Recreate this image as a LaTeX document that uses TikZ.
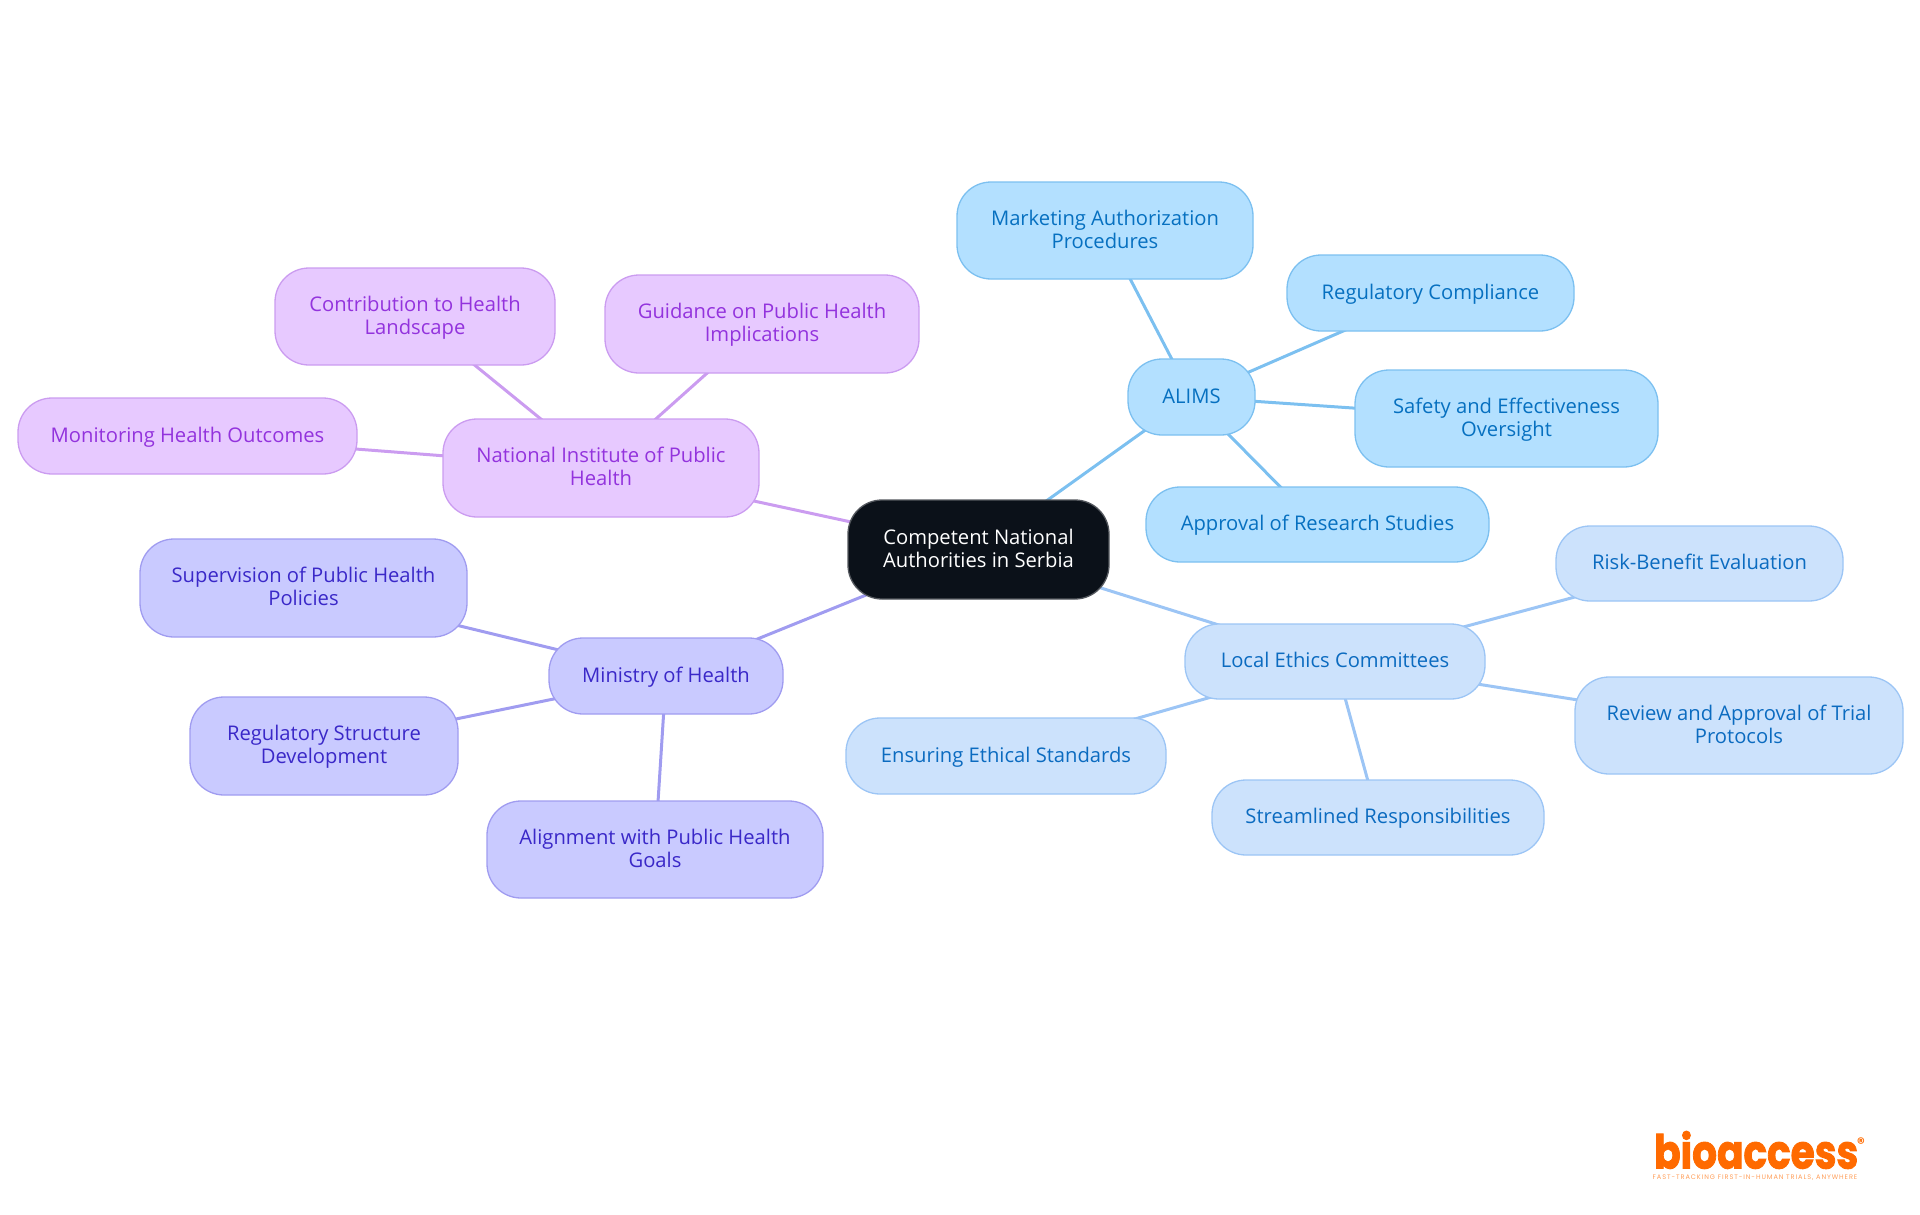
\documentclass[tikz,border=0pt]{standalone}
\usepackage{fontspec}
\setmainfont{Open Sans}
\newfontfamily\logofont{Poppins}
\usetikzlibrary{backgrounds}
\definecolor{rootfill}{HTML}{0B1119}
\definecolor{afill}{HTML}{B3E0FF}\definecolor{aline}{HTML}{7CC0F0}\definecolor{atext}{HTML}{0670C0}
\definecolor{lfill}{HTML}{CCE2FC}\definecolor{lline}{HTML}{9CC5F5}\definecolor{ltext}{HTML}{0B6BC0}
\definecolor{mfill}{HTML}{C9CAFF}\definecolor{mline}{HTML}{A09CF0}\definecolor{mtext}{HTML}{3A28C8}
\definecolor{nfill}{HTML}{E7C9FF}\definecolor{nline}{HTML}{CB9CF0}\definecolor{ntext}{HTML}{9333DD}
\definecolor{logoorange}{HTML}{FF6A00}
\newcommand{\linestrut}{\rule[-5pt]{0pt}{22.6pt}}
\tikzset{
  x=1pt,y=-1pt,
  box/.style={rectangle,rounded corners=34pt,line width=1.3pt,inner sep=0pt,align=center,
    font=\fontsize{20.2}{22.7}\selectfont},
  abox/.style={box,fill=afill,draw=aline,text=atext},
  lbox/.style={box,fill=lfill,draw=lline,text=ltext},
  mbox/.style={box,fill=mfill,draw=mline,text=mtext},
  nbox/.style={box,fill=nfill,draw=nline,text=ntext},
  rootbox/.style={box,fill=rootfill,draw=rootfill!70!white,text=white},
  aedge/.style={draw=aline,line width=3pt},
  ledge/.style={draw=lline,line width=3pt},
  medge/.style={draw=mline,line width=3pt},
  nedge/.style={draw=nline,line width=3pt},
}
% name, style, x1, y1, x2, y2, text
\newcommand{\mapnode}[7]{%
  \pgfmathsetmacro{\mnw}{#5-#3}\pgfmathsetmacro{\mnh}{#6-#4}%
  \pgfmathsetmacro{\mnx}{(#3+#5)/2}\pgfmathsetmacro{\mny}{(#4+#6)/2}%
  \node[#2,minimum width=\mnw pt,minimum height=\mnh pt] (#1) at (\mnx,\mny) {\linestrut#7\linestrut};}
\begin{document}
\begin{tikzpicture}
\useasboundingbox (0,0) rectangle (1920,1215);
\mapnode{root}{rootbox}{848}{500}{1109}{599}{Competent National\\Authorities in Serbia}
\mapnode{alims}{abox}{1128}{359}{1255}{435}{ALIMS}
\mapnode{market}{abox}{957}{182}{1253}{279}{Marketing Authorization\\Procedures}
\mapnode{regcomp}{abox}{1287}{255}{1574}{331}{Regulatory Compliance}
\mapnode{safety}{abox}{1355}{370}{1658}{467}{Safety and Effectiveness\\Oversight}
\mapnode{approval}{abox}{1146}{487}{1489}{562}{Approval of Research Studies}
\mapnode{local}{lbox}{1185}{624}{1485}{699}{Local Ethics Committees}
\mapnode{risk}{lbox}{1556}{526}{1843}{601}{Risk-Benefit Evaluation}
\mapnode{review}{lbox}{1575}{677}{1903}{774}{Review and Approval of Trial\\Protocols}
\mapnode{stream}{lbox}{1212}{780}{1544}{855}{Streamlined Responsibilities}
\mapnode{ensure}{lbox}{846}{718}{1166}{794}{Ensuring Ethical Standards}
\mapnode{ministry}{mbox}{549}{638}{783}{714}{Ministry of Health}
\mapnode{superv}{mbox}{140}{539}{467}{637}{Supervision of Public Health\\Policies}
\mapnode{regstruct}{mbox}{190}{697}{458}{795}{Regulatory Structure\\Development}
\mapnode{align}{mbox}{487}{801}{823}{898}{Alignment with Public Health\\Goals}
\mapnode{niph}{nbox}{443}{419}{759}{517}{National Institute of Public\\Health}
\mapnode{guidance}{nbox}{605}{275}{919}{373}{Guidance on Public Health\\Implications}
\mapnode{contrib}{nbox}{275}{268}{555}{365}{Contribution to Health\\Landscape}
\mapnode{monitor}{nbox}{18}{398}{357}{474}{Monitoring Health Outcomes}
\begin{scope}[on background layer]
\draw[aedge] (root.center) -- (alims.center);
\draw[aedge] (alims.center) -- (market.center);
\draw[aedge] (alims.center) -- (regcomp.center);
\draw[aedge] (alims.center) -- (safety.center);
\draw[aedge] (alims.center) -- (approval.center);
\draw[ledge] (root.center) -- (local.center);
\draw[ledge] (local.center) -- (risk.center);
\draw[ledge] (local.center) -- (review.center);
\draw[ledge] (local.center) -- (stream.center);
\draw[ledge] (local.center) -- (ensure.center);
\draw[medge] (root.center) -- (ministry.center);
\draw[medge] (ministry.center) -- (superv.center);
\draw[medge] (ministry.center) -- (regstruct.center);
\draw[medge] (ministry.center) -- (align.center);
\draw[nedge] (root.center) -- (niph.center);
\draw[nedge] (niph.center) -- (guidance.center);
\draw[nedge] (niph.center) -- (contrib.center);
\draw[nedge] (niph.center) -- (monitor.center);
\end{scope}
\node[inner sep=0pt,text=logoorange,font=\logofont\bfseries\addfontfeature{FakeBold=2}\fontsize{39}{40}\selectfont,anchor=base west] (logo) at (1654,1168.5) {\scalebox{1}[1.2]{bioaccess}};
\node[inner sep=0pt,text=logoorange,font=\logofont\bfseries\fontsize{15}{16}\selectfont,anchor=center] (reg) at (1861,1143) {®};
\node[inner sep=0pt,text=logoorange!65!white,font=\logofont\addfontfeature{LetterSpace=14}\fontsize{6.6}{7}\selectfont,anchor=center] (tag) at (1755,1177.5) {FAST-TRACKING FIRST-IN-HUMAN TRIALS, ANYWHERE};
\end{tikzpicture}
\end{document}
